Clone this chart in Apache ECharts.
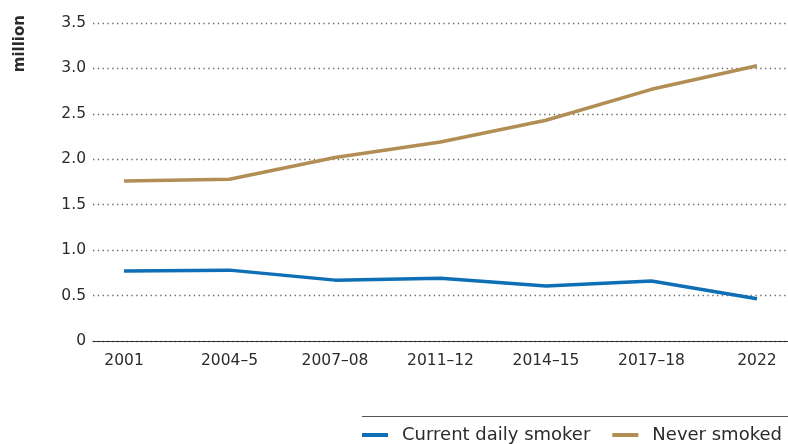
<!DOCTYPE html>
<html>
<head>
<meta charset="utf-8">
<script src="https://cdn.jsdelivr.net/npm/echarts@6/dist/echarts.min.js"></script>
<style>
  html, body { margin: 0; padding: 0; background: #fff; }
  #chart { width: 788px; height: 444px; }
</style>
</head>
<body>
<div id="chart"></div>
<script>
// Survey periods along the x axis
const periods = ['2001', '2004–5', '2007–08', '2011–12', '2014–15', '2017–18', '2022'];
// People (million) by smoking status
const currentDailySmoker = [0.77, 0.78, 0.67, 0.69, 0.605, 0.66, 0.465];
const neverSmoked = [1.76, 1.78, 2.02, 2.19, 2.43, 2.77, 3.03];
// Y axis tick labels
const yTicks = [0, 0.5, 1.0, 1.5, 2.0, 2.5, 3.0, 3.5];

const FONT = '"DejaVu Sans"';
const TEXT = '#2b2b2b';
const BLUE = '#0f6fb6';
const GOLD = '#b28e55';

const toPoints = arr => arr.map((v, i) => [i, v]);
const periodIdx = periods.map((_, i) => i);

const chart = echarts.init(document.getElementById('chart'));
chart.setOption({
  animation: false,
  textStyle: { fontFamily: FONT },
  grid: { left: 93, right: 0, top: 23, bottom: 103, containLabel: false },
  xAxis: {
    type: 'value',
    min: -0.294,
    max: 6.294,
    axisLine: { show: true, lineStyle: { color: '#333', width: 1 } },
    axisTick: { show: false },
    splitLine: { show: false },
    axisLabel: {
      customValues: periodIdx,
      formatter: v => periods[Math.round(v)],
      color: TEXT, fontSize: 15.5, fontFamily: FONT, margin: 12
    }
  },
  yAxis: {
    type: 'value',
    min: 0,
    max: 3.5,
    interval: 0.5,
    axisLine: { show: false },
    axisTick: { show: false },
    axisLabel: {
      customValues: yTicks,
      formatter: v => (v === 0 ? '0' : v.toFixed(1)),
      color: TEXT, fontSize: 15.5, fontFamily: FONT, margin: 7
    },
    splitLine: {
      show: true,
      lineStyle: { color: '#666', width: 1.3, type: [1.3, 3.5] }
    }
  },
  legend: {
    left: 362,
    top: 425,
    width: 426,
    padding: 0,
    itemGap: 22,
    itemWidth: 26,
    itemHeight: 4,
    icon: 'rect',
    textStyle: { color: TEXT, fontSize: 18, fontFamily: FONT, lineHeight: 20, padding: [0, 0, 0, 9] },
    data: ['Current daily smoker', 'Never smoked']
  },
  graphic: [
    {
      type: 'line',
      shape: { x1: 362, y1: 416.5, x2: 788, y2: 416.5 },
      style: { stroke: '#555', lineWidth: 1 }
    },
    {
      type: 'text',
      left: 13,
      top: 15,
      rotation: Math.PI / 2,
      style: { text: 'million', fill: TEXT, fontSize: 15, fontFamily: FONT, fontWeight: 'bold' }
    }
  ],
  series: [
    {
      name: 'Current daily smoker',
      type: 'line',
      data: toPoints(currentDailySmoker),
      showSymbol: false,
      lineStyle: { color: BLUE, width: 3.5 },
      itemStyle: { color: BLUE }
    },
    {
      name: 'Never smoked',
      type: 'line',
      data: toPoints(neverSmoked),
      showSymbol: false,
      lineStyle: { color: GOLD, width: 3.5 },
      itemStyle: { color: GOLD }
    }
  ]
});
</script>
</body>
</html>
